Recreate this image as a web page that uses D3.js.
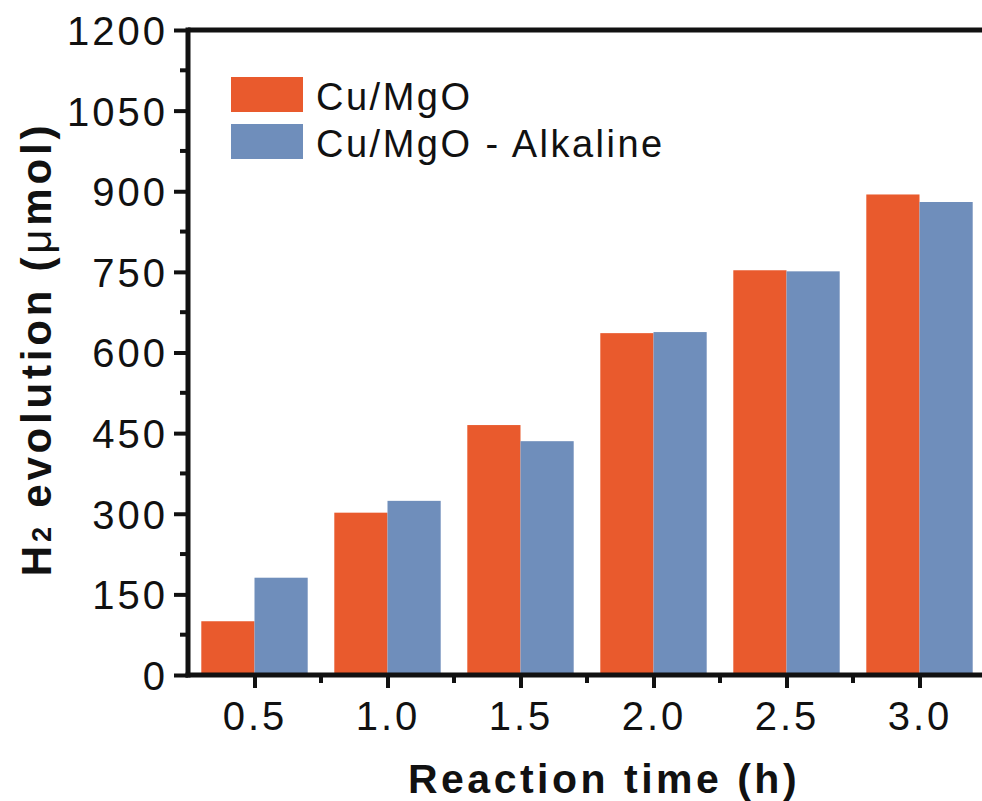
<!DOCTYPE html>
<html><head><meta charset="utf-8">
<script src="https://cdn.jsdelivr.net/npm/d3@7"></script>
<style>body{margin:0;background:#fff}svg{display:block}</style>
</head><body>
<svg id="c" width="982" height="801"></svg>
<script>
const times = [0.5, 1.0, 1.5, 2.0, 2.5, 3.0];
const timeLabels = ["0.5", "1.0", "1.5", "2.0", "2.5", "3.0"];
const cuMgO = [100, 302, 465, 636, 753, 894];
const cuMgOAlkaline = [181, 324, 435, 638, 751, 880];
const seriesNames = ["Cu/MgO", "Cu/MgO - Alkaline"];
const yTicks = [0, 150, 300, 450, 600, 750, 900, 1050, 1200];
const yMinor = [75, 225, 375, 525, 675, 825, 975, 1125];
const xMinor = [0.75, 1.25, 1.75, 2.25, 2.75];

const colors = ["#E95A2D", "#6F8EBB"];
const font = "Arial, 'Liberation Sans', sans-serif";
const svg = d3.select("#c");
const L = 188, R = 986, T = 30, B = 675;
const x = d3.scaleLinear().domain([0.25, 3.25]).range([L, R]);
const y = d3.scaleLinear().domain([0, 1200]).range([B, T]);
const bw = x(0.45) - x(0.25);

const series = [cuMgO, cuMgOAlkaline];
series.forEach((vals, si) => {
  svg.append("g").selectAll("rect").data(times).join("rect")
    .attr("x", (d) => si === 0 ? x(d) - bw : x(d))
    .attr("width", bw)
    .attr("y", (d, i) => y(vals[i]))
    .attr("height", (d, i) => y(0) - y(vals[i]))
    .attr("fill", colors[si]);
});

// frame
svg.append("line").attr("x1", L).attr("x2", 982).attr("y1", T).attr("y2", T)
  .attr("stroke", "#111").attr("stroke-width", 5);

// y axis
const yAxis = d3.axisLeft(y).tickValues(yTicks).tickSize(14).tickPadding(6).tickFormat(d3.format("d"));
const gy = svg.append("g").attr("transform", `translate(${L},0)`).call(yAxis);
gy.select(".domain").attr("stroke", "#111").attr("stroke-width", 5).attr("d", `M0,${B+2.5}V${T-2.5}`);
gy.selectAll(".tick line").attr("stroke", "#111").attr("stroke-width", 4);
gy.selectAll(".tick text").attr("font-family", font).attr("font-size", 40)
  .attr("letter-spacing", 3).attr("fill", "#111").attr("dy", "0.36em");
svg.append("g").selectAll("line").data(yMinor).join("line")
  .attr("x1", L - 8).attr("x2", L).attr("y1", d => y(d)).attr("y2", d => y(d))
  .attr("stroke", "#111").attr("stroke-width", 4);

// x axis
const xAxis = d3.axisBottom(x).tickValues(times).tickSize(13).tickPadding(14)
  .tickFormat((d, i) => timeLabels[i]);
const gx = svg.append("g").attr("transform", `translate(0,${B})`).call(xAxis);
gx.select(".domain").attr("stroke", "#111").attr("stroke-width", 5).attr("d", `M${L-2.5},0H982`);
gx.selectAll(".tick line").attr("stroke", "#111").attr("stroke-width", 4);
gx.selectAll(".tick text").attr("font-family", font).attr("font-size", 40)
  .attr("letter-spacing", 3).attr("fill", "#111");
svg.append("g").selectAll("line").data(xMinor).join("line")
  .attr("x1", d => x(d)).attr("x2", d => x(d)).attr("y1", B).attr("y2", B + 8)
  .attr("stroke", "#111").attr("stroke-width", 4);

// axis titles
svg.append("text").attr("x", 604).attr("y", 793).attr("text-anchor", "middle")
  .attr("font-family", font).attr("font-weight", "bold").attr("font-size", 41)
  .attr("letter-spacing", 3.5).attr("fill", "#111").text("Reaction time (h)");

const yt = svg.append("text").attr("transform", "translate(51,349) rotate(-90)")
  .attr("text-anchor", "middle").attr("font-family", font).attr("font-weight", "bold")
  .attr("font-size", 42).attr("letter-spacing", 3.8).attr("fill", "#111");
yt.append("tspan").text("H");
yt.append("tspan").attr("font-size", 27).text("2");
yt.append("tspan").text(" evolution (");
yt.append("tspan").attr("font-weight", "normal").text("μ");
yt.append("tspan").text("mol)");

// legend
const lg = svg.append("g");
seriesNames.forEach((name, i) => {
  lg.append("rect").attr("x", 231).attr("y", 77 + i * 47).attr("width", 72).attr("height", 35)
    .attr("fill", colors[i]);
  lg.append("text").attr("x", 316).attr("y", 110 + i * 47)
    .attr("font-family", font).attr("font-size", 38).attr("letter-spacing", 2.5)
    .attr("fill", "#111").text(name);
});
</script>
</body></html>
